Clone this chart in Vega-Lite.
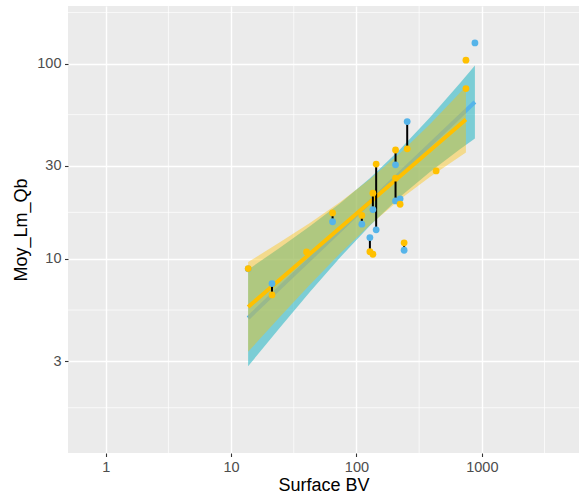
{
  "$schema": "https://vega.github.io/schema/vega-lite/v6.json",
  "width": 511,
  "height": 447,
  "autosize": "none",
  "padding": {"left": 68, "top": 6, "right": 2, "bottom": 48},
  "background": "white",
  "config": {
    "view": {"fill": "#EBEBEB", "stroke": null},
    "font": "Liberation Sans",
    "axis": {
      "domain": false,
      "gridColor": "white",
      "gridWidth": 1.4,
      "tickColor": "#333333",
      "tickWidth": 1.1,
      "tickSize": 3.5,
      "labelColor": "#4D4D4D",
      "labelFontSize": 14.5,
      "labelPadding": 3.5,
      "titleFontSize": 18,
      "titleColor": "black",
      "titleFontWeight": "normal"
    }
  },
  "datasets": {
    "gridx": [{"x": 3.162}, {"x": 31.62}, {"x": 316.2}, {"x": 3162}],
    "gridy": [{"y": 1.732}, {"y": 5.477}, {"y": 17.32}, {"y": 54.77}, {"y": 182.6}],
    "band": [
      {"s": "b", "x": 13.67, "lo": 2.824, "hi": 8.814},
      {"s": "b", "x": 24.47, "lo": 4.445, "hi": 11.41},
      {"s": "b", "x": 42.48, "lo": 6.779, "hi": 14.68},
      {"s": "b", "x": 73.72, "lo": 10.15, "hi": 19.23},
      {"s": "b", "x": 127.9, "lo": 14.80, "hi": 25.88},
      {"s": "b", "x": 222.0, "lo": 20.72, "hi": 36.27},
      {"s": "b", "x": 385.3, "lo": 27.88, "hi": 52.92},
      {"s": "b", "x": 668.7, "lo": 36.42, "hi": 79.29},
      {"s": "b", "x": 880.9, "lo": 41.37, "hi": 97.8},
      {"s": "y", "x": 13.67, "lo": 3.346, "hi": 9.64},
      {"s": "y", "x": 24.47, "lo": 5.05, "hi": 12.16},
      {"s": "y", "x": 42.48, "lo": 7.379, "hi": 15.28},
      {"s": "y", "x": 73.72, "lo": 10.63, "hi": 19.53},
      {"s": "y", "x": 127.9, "lo": 14.91, "hi": 25.58},
      {"s": "y", "x": 222.0, "lo": 20.15, "hi": 34.77},
      {"s": "y", "x": 385.3, "lo": 26.28, "hi": 48.96},
      {"s": "y", "x": 746.7, "lo": 35.04, "hi": 76.26}
    ],
    "fit": [
      {"s": "b", "x": 13.67, "y": 4.99},
      {"s": "b", "x": 880.9, "y": 63.61},
      {"s": "y", "x": 13.67, "y": 5.68},
      {"s": "y", "x": 746.7, "y": 51.68}
    ],
    "seg": [
      {"x": 21.2, "lo": 6.54, "hi": 7.48},
      {"x": 64.5, "lo": 15.5, "hi": 17.2},
      {"x": 110.4, "lo": 15.06, "hi": 16.7},
      {"x": 128, "lo": 10.9, "hi": 12.87},
      {"x": 135.2, "lo": 17.9, "hi": 21.7},
      {"x": 143.6, "lo": 14.1, "hi": 30.6},
      {"x": 205, "lo": 30.3, "hi": 36.1},
      {"x": 205, "lo": 19.8, "hi": 25.9},
      {"x": 223, "lo": 19.05, "hi": 20.3},
      {"x": 240, "lo": 11.08, "hi": 12.1},
      {"x": 254, "lo": 36.6, "hi": 50.5}
    ],
    "pts": [
      {"s": "b", "x": 13.7, "y": 8.9},
      {"s": "b", "x": 21.2, "y": 7.48},
      {"s": "b", "x": 64.5, "y": 15.5},
      {"s": "b", "x": 110.4, "y": 15.06},
      {"s": "b", "x": 128, "y": 12.87},
      {"s": "b", "x": 135.2, "y": 17.9},
      {"s": "b", "x": 143.6, "y": 14.1},
      {"s": "b", "x": 205, "y": 30.3},
      {"s": "b", "x": 205, "y": 19.8},
      {"s": "b", "x": 223, "y": 20.3},
      {"s": "b", "x": 240, "y": 11.08},
      {"s": "b", "x": 254, "y": 50.5},
      {"s": "b", "x": 881, "y": 127.5},
      {"s": "y", "x": 13.7, "y": 8.93},
      {"s": "y", "x": 21.2, "y": 6.54},
      {"s": "y", "x": 40.0, "y": 10.86},
      {"s": "y", "x": 64.5, "y": 17.2},
      {"s": "y", "x": 110.4, "y": 16.7},
      {"s": "y", "x": 128, "y": 10.9},
      {"s": "y", "x": 135.2, "y": 10.57},
      {"s": "y", "x": 135.2, "y": 21.7},
      {"s": "y", "x": 143.6, "y": 30.6},
      {"s": "y", "x": 205, "y": 36.1},
      {"s": "y", "x": 205, "y": 25.9},
      {"s": "y", "x": 223, "y": 19.05},
      {"s": "y", "x": 240, "y": 12.1},
      {"s": "y", "x": 254, "y": 36.6},
      {"s": "y", "x": 432, "y": 28.2},
      {"s": "y", "x": 747, "y": 104},
      {"s": "y", "x": 747, "y": 74.5}
    ]
  },
  "layer": [
    {
      "data": {"name": "gridx"},
      "mark": {"type": "rule", "color": "white", "strokeWidth": 0.7},
      "encoding": {
        "x": {"field": "x", "type": "quantitative",
              "scale": {"type": "log", "domain": [0.5, 5960], "nice": false},
              "axis": {"values": [1, 10, 100, 1000], "format": "d", "title": "Surface BV", "titlePadding": 3}}
      }
    },
    {
      "data": {"name": "gridy"},
      "mark": {"type": "rule", "color": "white", "strokeWidth": 0.7},
      "encoding": {
        "y": {"field": "y", "type": "quantitative",
              "scale": {"type": "log", "domain": [1.016, 197], "nice": false},
              "axis": {"values": [3, 10, 30, 100], "format": "d", "title": "Moy_Lm_Qb", "titlePadding": 6.5}}
      }
    },
    {
      "data": {"name": "band"},
      "transform": [{"filter": "datum.s === 'b'"}],
      "mark": {"type": "area", "color": "#1FB5C2", "opacity": 0.55},
      "encoding": {
        "x": {"field": "x", "type": "quantitative"},
        "y": {"field": "lo", "type": "quantitative"},
        "y2": {"field": "hi"}
      }
    },
    {
      "data": {"name": "fit"},
      "transform": [{"filter": "datum.s === 'b'"}],
      "mark": {"type": "line", "color": "#56B4E9", "strokeWidth": 4},
      "encoding": {
        "x": {"field": "x", "type": "quantitative"},
        "y": {"field": "y", "type": "quantitative"}
      }
    },
    {
      "data": {"name": "band"},
      "transform": [{"filter": "datum.s === 'y'"}],
      "mark": {"type": "area", "color": "#FFC000", "opacity": 0.4},
      "encoding": {
        "x": {"field": "x", "type": "quantitative"},
        "y": {"field": "lo", "type": "quantitative"},
        "y2": {"field": "hi"}
      }
    },
    {
      "data": {"name": "fit"},
      "transform": [{"filter": "datum.s === 'y'"}],
      "mark": {"type": "line", "color": "#FFC000", "strokeWidth": 4},
      "encoding": {
        "x": {"field": "x", "type": "quantitative"},
        "y": {"field": "y", "type": "quantitative"}
      }
    },
    {
      "data": {"name": "seg"},
      "mark": {"type": "rule", "color": "black", "strokeWidth": 2},
      "encoding": {
        "x": {"field": "x", "type": "quantitative"},
        "y": {"field": "lo", "type": "quantitative"},
        "y2": {"field": "hi"}
      }
    },
    {
      "data": {"name": "pts"},
      "mark": {"type": "circle", "size": 46, "opacity": 1},
      "encoding": {
        "x": {"field": "x", "type": "quantitative"},
        "y": {"field": "y", "type": "quantitative"},
        "color": {"field": "s", "type": "nominal",
                  "scale": {"domain": ["b", "y"], "range": ["#56B4E9", "#FFC000"]},
                  "legend": null}
      }
    }
  ]
}
